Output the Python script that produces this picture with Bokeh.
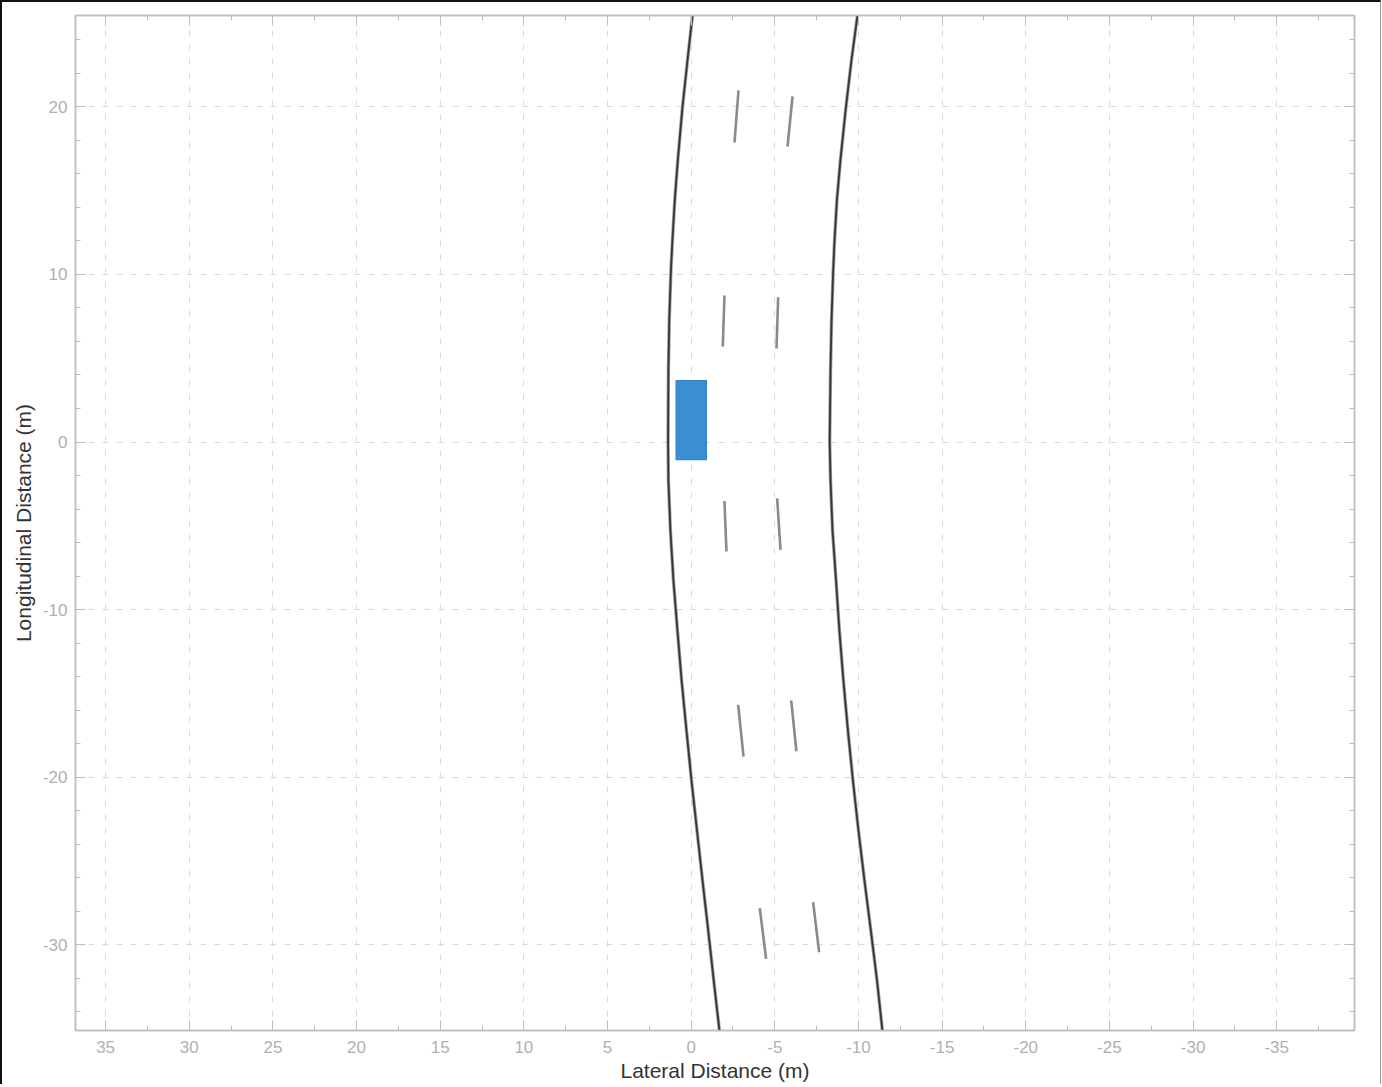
from bokeh.plotting import figure
from bokeh.models import (Range1d, SingleIntervalTicker, LinearAxis, ColumnDataSource,
                          CustomLabelingPolicy, PrintfTickFormatter)
from bokeh.embed import file_html
from bokeh.resources import INLINE

# ---- data (y = longitudinal m, l = lateral m) ----
edge_y = [25.46, 22.78, 19.97, 16.81, 14.42, 12.03, 10.24, 7.25, 4.27, 0.03, -2.30,
          -5.28, -8.27, -11.25, -14.24, -17.22, -20.21, -23.19, -26.18, -29.16, -32.15, -35.13]

left_edge_l = [-0.08, 0.22, 0.52, 0.80, 0.98, 1.12, 1.21, 1.31, 1.36, 1.38, 1.36,
               1.24, 1.06, 0.82, 0.57, 0.28, -0.02, -0.35, -0.68, -1.02, -1.35, -1.69]

right_edge_l = [-9.94, -9.58, -9.25, -8.92, -8.71, -8.57, -8.49, -8.39, -8.33, -8.28, -8.33,
                -8.45, -8.66, -8.86, -9.10, -9.37, -9.67, -10.00, -10.36, -10.74, -11.11, -11.43]

# dashed lane marker 1 (each dash: start/end)
dash1_y0 = [20.99, 8.75, -3.53, -15.69, -27.83]
dash1_y1 = [17.88, 5.70, -6.54, -18.78, -30.85]
dash1_l0 = [-2.83, -1.99, -1.99, -2.81, -4.10]
dash1_l1 = [-2.59, -1.89, -2.11, -3.13, -4.48]

# dashed lane marker 2
dash2_y0 = [20.63, 8.64, -3.37, -15.43, -27.47]
dash2_y1 = [17.64, 5.58, -6.44, -18.46, -30.46]
dash2_l0 = [-6.06, -5.20, -5.14, -5.98, -7.29]
dash2_l1 = [-5.76, -5.10, -5.34, -6.29, -7.65]

# ego vehicle outline (lateral left/right, longitudinal rear/front)
car_l = [0.90, -0.91]
car_y = [-1.06, 3.67]

x_label = "Lateral Distance (m)"
y_label = "Longitudinal Distance (m)"

FONT = "Liberation Sans"

p = figure(
    frame_width=1279, frame_height=1015,
    x_range=Range1d(36.80, -39.65), y_range=Range1d(-35.13, 25.46),
    output_backend="svg", toolbar_location=None,
    min_border_left=73, min_border_top=13, min_border_right=26, min_border_bottom=49,
    x_axis_label=x_label, y_axis_label=y_label,
)
p.styles = {"border-left": "2px solid #111", "border-top": "2px solid #111",
            "border-right": "1px solid #999"}
p.background_fill_color = "white"
p.border_fill_color = "white"
p.outline_line_color = "#bdbdbd"
p.outline_line_width = 1.5

xt = SingleIntervalTicker(interval=5, num_minor_ticks=2)
yt = SingleIntervalTicker(interval=10, num_minor_ticks=5)

no_labels = CustomLabelingPolicy(code="""
for (let i = 0; i < indices.size; i++) indices.unset(i)
return indices
""")

p.add_layout(LinearAxis(major_label_policy=no_labels), "above")
p.add_layout(LinearAxis(major_label_policy=no_labels), "right")

for ax in p.xaxis:
    ax.ticker = xt
for ax in p.yaxis:
    ax.ticker = yt

for ax in p.axis:
    ax.formatter = PrintfTickFormatter(format="%d")
    ax.axis_line_color = "#bdbdbd"
    ax.axis_line_width = 1.5
    ax.major_tick_line_color = "#bdbdbd"
    ax.minor_tick_line_color = "#bdbdbd"
    ax.major_tick_in = 10
    ax.major_tick_out = 0
    ax.minor_tick_in = 5
    ax.minor_tick_out = 0
    ax.major_label_text_color = "#b0b0b0"
    ax.major_label_text_font = FONT
    ax.major_label_text_font_size = "17px"
    ax.axis_label_text_color = "#333333"
    ax.axis_label_text_font = FONT
    ax.axis_label_text_font_size = "21px"
    ax.axis_label_text_font_style = "normal"

p.below[0].major_label_standoff = 10
p.below[0].axis_label_standoff = 3
p.left[0].major_label_standoff = 8
p.left[0].axis_label_standoff = 5

for ax in (p.above[0], p.right[0]):
    ax.major_label_text_font_size = "0px"
    ax.major_label_standoff = 0
    ax.axis_label = None

p.xgrid.ticker = xt
p.ygrid.ticker = yt
for g in (p.xgrid, p.ygrid):
    g.grid_line_color = "#d9d9d9"
    g.grid_line_dash = "6 8"
    g.grid_line_width = 1

# road edges
for ls in (left_edge_l, right_edge_l):
    p.line(ls, edge_y, line_color="#a0a0a0", line_width=3.4, line_join="round")
    p.line(ls, edge_y, line_color="#363636", line_width=1.8, line_join="round")

# lane dashes
src1 = ColumnDataSource(dict(x0=dash1_l0, y0=dash1_y0, x1=dash1_l1, y1=dash1_y1))
src2 = ColumnDataSource(dict(x0=dash2_l0, y0=dash2_y0, x1=dash2_l1, y1=dash2_y1))
for s in (src1, src2):
    p.segment("x0", "y0", "x1", "y1", source=s, line_color="#8a8a8a", line_width=2.6)

# ego vehicle
p.quad(left=[car_l[0]], right=[car_l[1]], bottom=[car_y[0]], top=[car_y[1]],
       fill_color="#3b8fd1", line_color="#2f80c4", line_width=1.2)

open("out.html", "w").write(file_html(p, INLINE))
